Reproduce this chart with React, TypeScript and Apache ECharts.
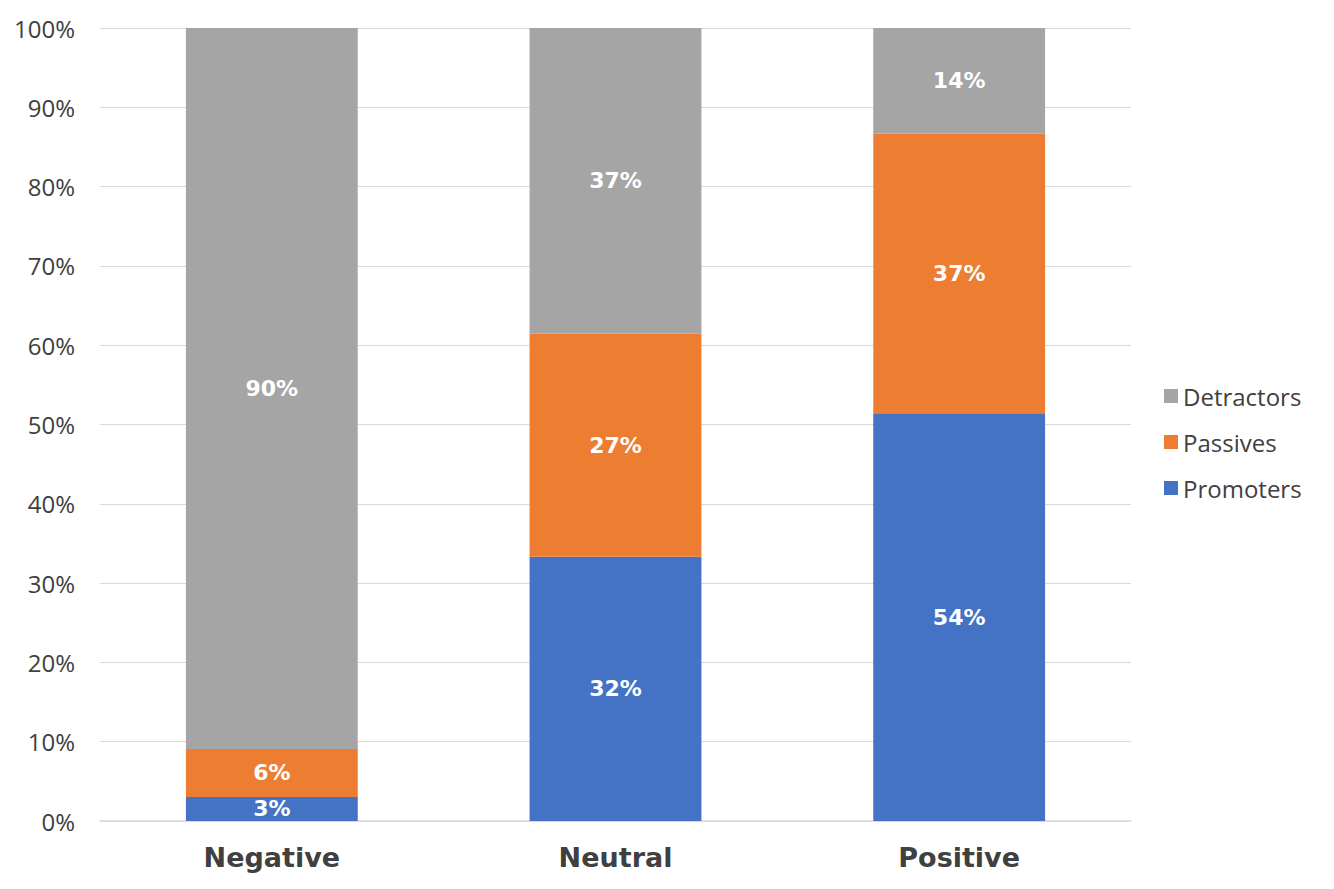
import React, { useEffect, useRef } from "react";
import * as echarts from "echarts";

const categories = ["Negative", "Neutral", "Positive"];
const promoters = [3, 32, 54];
const passives = [6, 27, 37];
const detractors = [90, 37, 14];
const yTicks = [0, 10, 20, 30, 40, 50, 60, 70, 80, 90, 100];

const totals = categories.map((_, i) => promoters[i] + passives[i] + detractors[i]);
const norm = (arr: number[]) =>
  arr.map((v, i) => ({ value: (v / totals[i]) * 100, raw: v }));

export default function App() {
  const ref = useRef<HTMLDivElement>(null);
  useEffect(() => {
    if (!ref.current) return;
    const chart = echarts.init(ref.current, null, { renderer: "svg" });
    const labelStyle = {
      show: true,
      position: "inside" as const,
      color: "#ffffff",
      fontFamily: "DejaVu Sans",
      fontWeight: "bold" as const,
      fontSize: 22,
      formatter: (p: any) => `${p.data.raw}%`,
    };
    const mk = (name: string, arr: number[], color: string) => ({
      name,
      type: "bar",
      stack: "total",
      barWidth: "50%",
      data: norm(arr),
      itemStyle: { color },
      label: labelStyle,
    });
    chart.setOption({
      animation: false,
      backgroundColor: "#ffffff",
      grid: { left: 100, right: 203, top: 28, bottom: 68 },
      legend: {
        orient: "vertical",
        left: 1159,
        top: 378,
        itemWidth: 14,
        itemHeight: 14,
        itemGap: 20,
        icon: "rect",
        data: ["Detractors", "Passives", "Promoters"],
        textStyle: {
          fontFamily: "Open Sans",
          fontSize: 24,
          color: "#404040",
          lineHeight: 26,
        },
      },
      xAxis: {
        type: "category",
        data: categories,
        axisTick: { show: false },
        axisLine: { lineStyle: { color: "#D9D9D9", width: 1.5 } },
        axisLabel: {
          fontFamily: "DejaVu Sans",
          fontWeight: "bold",
          fontSize: 27,
          color: "#404040",
          margin: 23,
        },
      },
      yAxis: {
        type: "value",
        min: yTicks[0],
        max: yTicks[yTicks.length - 1],
        interval: 10,
        axisLabel: {
          fontFamily: "Open Sans",
          fontSize: 24,
          color: "#404040",
          margin: 25,
          formatter: (v: number) => `${v}%`,
        },
        axisLine: { show: false },
        axisTick: { show: false },
        splitLine: { lineStyle: { color: "#D9D9D9", width: 1 } },
      },
      series: [
        mk("Promoters", promoters, "#4472C4"),
        mk("Passives", passives, "#ED7D31"),
        mk("Detractors", detractors, "#A5A5A5"),
      ],
    });
    return () => chart.dispose();
  }, []);
  return (
    <div
      ref={ref}
      style={{ position: "fixed", left: 0, top: 0, width: 1334, height: 889 }}
    />
  );
}
